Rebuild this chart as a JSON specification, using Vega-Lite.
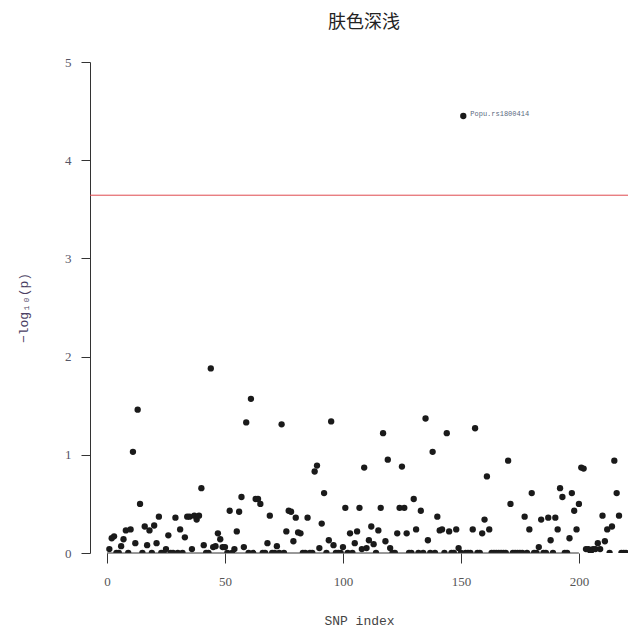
{
  "$schema": "https://vega.github.io/schema/vega-lite/v6.json",
  "autosize": "none",
  "padding": {"left": 90, "top": 62, "right": 0, "bottom": 75},
  "width": 538,
  "height": 491,
  "background": "white",
  "title": {"text": "肤色深浅", "font": "Noto Sans CJK SC", "fontSize": 18, "fontWeight": "normal", "color": "#222222", "anchor": "middle", "offset": 24, "dx": 5},
  "config": {"view": {"stroke": null}},
  "datasets": {
    "snps": [
      {"idx":1,"logp":0.04},{"idx":2,"logp":0.15},{"idx":3,"logp":0.17},{"idx":4,"logp":0},{"idx":5,"logp":0},
      {"idx":6,"logp":0.07},{"idx":7,"logp":0.14},{"idx":8,"logp":0.23},{"idx":9,"logp":0},{"idx":10,"logp":0.24},
      {"idx":11,"logp":1.03},{"idx":12,"logp":0.10},{"idx":13,"logp":1.46},{"idx":14,"logp":0.50},{"idx":15,"logp":0},
      {"idx":16,"logp":0.27},{"idx":17,"logp":0.08},{"idx":18,"logp":0.23},{"idx":19,"logp":0},{"idx":20,"logp":0.28},
      {"idx":21,"logp":0.10},{"idx":22,"logp":0.37},{"idx":23,"logp":0},{"idx":24,"logp":0},{"idx":25,"logp":0.04},
      {"idx":26,"logp":0.18},{"idx":27,"logp":0},{"idx":28,"logp":0},{"idx":29,"logp":0.36},{"idx":30,"logp":0},
      {"idx":31,"logp":0.24},{"idx":32,"logp":0},{"idx":33,"logp":0.16},{"idx":34,"logp":0.37},{"idx":35,"logp":0.37},
      {"idx":36,"logp":0.04},{"idx":37,"logp":0.38},{"idx":38,"logp":0.34},{"idx":39,"logp":0.38},{"idx":40,"logp":0.66},
      {"idx":41,"logp":0.08},{"idx":42,"logp":0},{"idx":43,"logp":0},{"idx":44,"logp":1.88},{"idx":45,"logp":0.06},
      {"idx":46,"logp":0.07},{"idx":47,"logp":0.20},{"idx":48,"logp":0.14},{"idx":49,"logp":0.06},{"idx":50,"logp":0.06},
      {"idx":51,"logp":0},{"idx":52,"logp":0.43},{"idx":53,"logp":0},{"idx":54,"logp":0.04},{"idx":55,"logp":0.22},
      {"idx":56,"logp":0.42},{"idx":57,"logp":0.57},{"idx":58,"logp":0.06},{"idx":59,"logp":1.33},{"idx":60,"logp":0},
      {"idx":61,"logp":1.57},{"idx":62,"logp":0},{"idx":63,"logp":0.55},{"idx":64,"logp":0.55},{"idx":65,"logp":0.50},
      {"idx":66,"logp":0},{"idx":67,"logp":0},{"idx":68,"logp":0.10},{"idx":69,"logp":0.38},{"idx":70,"logp":0},
      {"idx":71,"logp":0},{"idx":72,"logp":0.07},{"idx":73,"logp":0},{"idx":74,"logp":1.31},{"idx":75,"logp":0},
      {"idx":76,"logp":0.22},{"idx":77,"logp":0.43},{"idx":78,"logp":0.42},{"idx":79,"logp":0.12},{"idx":80,"logp":0.36},
      {"idx":81,"logp":0.21},{"idx":82,"logp":0.20},{"idx":83,"logp":0},{"idx":84,"logp":0},{"idx":85,"logp":0.36},
      {"idx":86,"logp":0},{"idx":87,"logp":0},{"idx":88,"logp":0.83},{"idx":89,"logp":0.89},{"idx":90,"logp":0.05},
      {"idx":91,"logp":0.30},{"idx":92,"logp":0.61},{"idx":93,"logp":0},{"idx":94,"logp":0.13},{"idx":95,"logp":1.34},
      {"idx":96,"logp":0.08},{"idx":97,"logp":0},{"idx":98,"logp":0},{"idx":99,"logp":0},{"idx":100,"logp":0.06},
      {"idx":101,"logp":0.46},{"idx":102,"logp":0},{"idx":103,"logp":0.20},{"idx":104,"logp":0},{"idx":105,"logp":0.10},
      {"idx":106,"logp":0.22},{"idx":107,"logp":0.46},{"idx":108,"logp":0.04},{"idx":109,"logp":0.87},{"idx":110,"logp":0.05},
      {"idx":111,"logp":0.13},{"idx":112,"logp":0.27},{"idx":113,"logp":0.09},{"idx":114,"logp":0},{"idx":115,"logp":0.23},
      {"idx":116,"logp":0.46},{"idx":117,"logp":1.22},{"idx":118,"logp":0.12},{"idx":119,"logp":0.95},{"idx":120,"logp":0.05},
      {"idx":121,"logp":0},{"idx":122,"logp":0},{"idx":123,"logp":0.20},{"idx":124,"logp":0.46},{"idx":125,"logp":0.88},
      {"idx":126,"logp":0.46},{"idx":127,"logp":0.20},{"idx":128,"logp":0},{"idx":129,"logp":0},{"idx":130,"logp":0.55},
      {"idx":131,"logp":0.24},{"idx":132,"logp":0},{"idx":133,"logp":0.43},{"idx":134,"logp":0},{"idx":135,"logp":1.37},
      {"idx":136,"logp":0.13},{"idx":137,"logp":0},{"idx":138,"logp":1.03},{"idx":139,"logp":0},{"idx":140,"logp":0.37},
      {"idx":141,"logp":0.23},{"idx":142,"logp":0.24},{"idx":143,"logp":0},{"idx":144,"logp":1.22},{"idx":145,"logp":0.22},
      {"idx":146,"logp":0},{"idx":147,"logp":0},{"idx":148,"logp":0.24},{"idx":149,"logp":0.05},{"idx":150,"logp":0},
      {"idx":151,"logp":4.45},{"idx":152,"logp":0},{"idx":153,"logp":0},{"idx":154,"logp":0},{"idx":155,"logp":0.24},
      {"idx":156,"logp":1.27},{"idx":157,"logp":0},{"idx":158,"logp":0},{"idx":159,"logp":0.20},{"idx":160,"logp":0.34},
      {"idx":161,"logp":0.78},{"idx":162,"logp":0.24},{"idx":163,"logp":0},{"idx":164,"logp":0},{"idx":165,"logp":0},
      {"idx":166,"logp":0},{"idx":167,"logp":0},{"idx":168,"logp":0},{"idx":169,"logp":0},{"idx":170,"logp":0.94},
      {"idx":171,"logp":0.50},{"idx":172,"logp":0},{"idx":173,"logp":0},{"idx":174,"logp":0},{"idx":175,"logp":0},
      {"idx":176,"logp":0},{"idx":177,"logp":0.37},{"idx":178,"logp":0},{"idx":179,"logp":0.24},{"idx":180,"logp":0.61},
      {"idx":181,"logp":0},{"idx":182,"logp":0},{"idx":183,"logp":0.06},{"idx":184,"logp":0.34},{"idx":185,"logp":0},
      {"idx":186,"logp":0},{"idx":187,"logp":0.36},{"idx":188,"logp":0.13},{"idx":189,"logp":0},{"idx":190,"logp":0.36},
      {"idx":191,"logp":0.24},{"idx":192,"logp":0.66},{"idx":193,"logp":0.57},{"idx":194,"logp":0},{"idx":195,"logp":0},
      {"idx":196,"logp":0.15},{"idx":197,"logp":0.61},{"idx":198,"logp":0.43},{"idx":199,"logp":0.24},{"idx":200,"logp":0.50},
      {"idx":201,"logp":0.87},{"idx":202,"logp":0.86},{"idx":203,"logp":0.04},{"idx":204,"logp":0.04},{"idx":205,"logp":0},
      {"idx":206,"logp":0.04},{"idx":207,"logp":0.04},{"idx":208,"logp":0.10},{"idx":209,"logp":0.04},{"idx":210,"logp":0.38},
      {"idx":211,"logp":0.12},{"idx":212,"logp":0.24},{"idx":213,"logp":0},{"idx":214,"logp":0.27},{"idx":215,"logp":0.94},
      {"idx":216,"logp":0.61},{"idx":217,"logp":0.38},{"idx":218,"logp":0},{"idx":219,"logp":0},{"idx":220,"logp":0}
    ],
    "labels": [{"idx": 151, "logp": 4.45, "label": "Popu.rs1800414"}],
    "threshold": [{"logp": 3.6435}],
    "xaxisline": [{"x0": 0, "x1": 200, "y0": 0}]
  },
  "layer": [
    {
      "data": {"name": "threshold"},
      "mark": {"type": "rule", "color": "#df4a4f", "strokeWidth": 1},
      "encoding": {
        "y": {"field": "logp", "type": "quantitative", "scale": {"domain": [0, 5], "nice": false, "zero": false}}
      }
    },
    {
      "data": {"name": "snps"},
      "mark": {"type": "circle", "size": 40, "color": "#1a1a1a", "opacity": 1, "clip": true},
      "encoding": {
        "x": {
          "field": "idx", "type": "quantitative",
          "scale": {"domain": [-7.2, 220.8], "nice": false, "zero": false},
          "axis": {
            "values": [0, 50, 100, 150, 200], "domain": false, "grid": false,
            "tickSize": 10, "tickColor": "#333333", "tickWidth": 1,
            "labelFont": "Liberation Serif", "labelFontSize": 13, "labelColor": "#555555", "labelPadding": 12,
            "title": "SNP index", "titleFont": "Liberation Mono", "titleFontSize": 13, "titleFontWeight": "normal",
            "titleColor": "#444444", "titlePadding": 26
          }
        },
        "y": {
          "field": "logp", "type": "quantitative",
          "scale": {"domain": [0, 5], "nice": false, "zero": false},
          "axis": {
            "values": [0, 1, 2, 3, 4, 5], "format": "d", "domain": true, "domainColor": "#333333", "grid": false,
            "tickSize": 9, "tickColor": "#333333",
            "labelFont": "Liberation Serif", "labelFontSize": 13, "labelColor": "#555566", "labelPadding": 10,
            "title": "−log₁₀(p)", "titleFont": "Liberation Mono", "titleFontSize": 13, "titleFontWeight": "normal",
            "titleColor": "#4b3f63", "titlePadding": 34
          }
        }
      }
    },
    {
      "data": {"name": "xaxisline"},
      "mark": {"type": "rule", "color": "#333333", "strokeWidth": 1},
      "encoding": {
        "x": {"field": "x0", "type": "quantitative"},
        "x2": {"field": "x1"},
        "y": {"field": "y0", "type": "quantitative"}
      }
    },
    {
      "data": {"name": "labels"},
      "mark": {"type": "text", "align": "left", "baseline": "middle", "dx": 7, "dy": -2, "font": "Liberation Mono", "fontSize": 7, "color": "#5a6a80"},
      "encoding": {
        "x": {"field": "idx", "type": "quantitative"},
        "y": {"field": "logp", "type": "quantitative"},
        "text": {"field": "label"}
      }
    }
  ]
}
